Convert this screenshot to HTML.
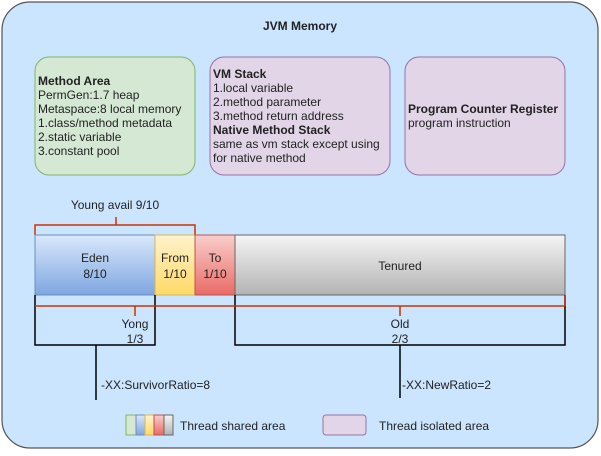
<!DOCTYPE html>
<html><head><style>
body{margin:0;width:601px;height:451px;overflow:hidden;background:#fff;font-family:"Liberation Sans",sans-serif;}
svg text{font-family:"Liberation Sans",sans-serif;font-size:12px;fill:#222;}
</style></head><body>
<svg width="601" height="451" viewBox="0 0 601 451">
<defs>
<linearGradient id="g1" x1="0" y1="0" x2="0" y2="1"><stop offset="0" stop-color="#dae8fc"/><stop offset="1" stop-color="#7ea6e0"/></linearGradient>
<linearGradient id="g2" x1="0" y1="0" x2="0" y2="1"><stop offset="0" stop-color="#fff2cc"/><stop offset="1" stop-color="#ffd966"/></linearGradient>
<linearGradient id="g3" x1="0" y1="0" x2="0" y2="1"><stop offset="0" stop-color="#f8cecc"/><stop offset="1" stop-color="#ea6b66"/></linearGradient>
<linearGradient id="g4" x1="0" y1="0" x2="0" y2="1"><stop offset="0" stop-color="#f5f5f5"/><stop offset="1" stop-color="#b3b3b3"/></linearGradient>
</defs>
<rect x="2" y="2" width="596" height="446" rx="28" fill="#cce5ff" stroke="#555" stroke-width="1.2"/>
<text x="300" y="30" text-anchor="middle" font-weight="bold">JVM Memory</text>
<rect x="35" y="57" width="160" height="118" rx="14" fill="#d5e8d4" stroke="#82b366"/>
<rect x="210" y="57" width="180" height="118" rx="14" fill="#e1d5e7" stroke="#9673a6"/>
<rect x="405" y="57" width="160" height="118" rx="14" fill="#e1d5e7" stroke="#9673a6"/>
<text x="38" y="85" font-weight="bold">Method Area</text>
<text x="38" y="99">PermGen:1.7 heap</text>
<text x="38" y="113">Metaspace:8 local memory</text>
<text x="38" y="127">1.class/method metadata</text>
<text x="38" y="141">2.static variable</text>
<text x="38" y="155">3.constant pool</text>
<text x="213" y="78" font-weight="bold">VM Stack</text>
<text x="213" y="92">1.local variable</text>
<text x="213" y="106">2.method parameter</text>
<text x="213" y="120">3.method return address</text>
<text x="213" y="134" font-weight="bold">Native Method Stack</text>
<text x="213" y="148">same as vm stack except using</text>
<text x="213" y="162">for native method</text>
<text x="408" y="113" font-weight="bold">Program Counter Register</text>
<text x="408" y="127">program instruction</text>
<text x="115" y="209" text-anchor="middle">Young avail 9/10</text>
<path d="M35 235V225H195V235M116 225V217" fill="none" stroke="#cc3300" stroke-width="1.5"/>
<rect x="35" y="235" width="120" height="60" fill="url(#g1)" stroke="#6c8ebf"/>
<rect x="155" y="235" width="40" height="60" fill="url(#g2)" stroke="#d6b656"/>
<rect x="195" y="235" width="40" height="60" fill="url(#g3)" stroke="#b85450"/>
<rect x="235" y="235" width="330" height="60" fill="url(#g4)" stroke="#666"/>
<text x="95" y="262" text-anchor="middle">Eden</text><text x="95" y="278" text-anchor="middle">8/10</text>
<text x="175" y="262" text-anchor="middle">From</text><text x="175" y="278" text-anchor="middle">1/10</text>
<text x="215" y="262" text-anchor="middle">To</text><text x="215" y="278" text-anchor="middle">1/10</text>
<text x="400" y="270" text-anchor="middle">Tenured</text>
<path d="M35 295V345H155V295M235 295V345H565V295M96 345V400M400 345V398" fill="none" stroke="#000" stroke-width="1.5"/>
<path d="M35 306H565M135 306V316M400 306V316M565 295V306" fill="none" stroke="#cc3300" stroke-width="1.5"/>
<text x="135" y="328" text-anchor="middle">Yong</text><text x="135" y="343" text-anchor="middle">1/3</text>
<text x="400" y="328" text-anchor="middle">Old</text><text x="400" y="343" text-anchor="middle">2/3</text>
<text x="101" y="389">-XX:SurvivorRatio=8</text>
<text x="402" y="389">-XX:NewRatio=2</text>
<rect x="126" y="415" width="10" height="20" fill="#d5e8d4" stroke="#82b366"/>
<rect x="136" y="415" width="9" height="20" fill="url(#g1)" stroke="#6c8ebf"/>
<rect x="145" y="415" width="9" height="20" fill="url(#g2)" stroke="#d6b656"/>
<rect x="154" y="415" width="10" height="20" fill="url(#g3)" stroke="#b85450"/>
<rect x="164" y="415" width="9" height="20" fill="url(#g4)" stroke="#666"/>
<text x="180" y="430">Thread shared area</text>
<rect x="323" y="415" width="43" height="20" rx="3" fill="#e1d5e7" stroke="#9673a6"/>
<text x="379" y="430">Thread isolated area</text>
</svg>
</body></html>
